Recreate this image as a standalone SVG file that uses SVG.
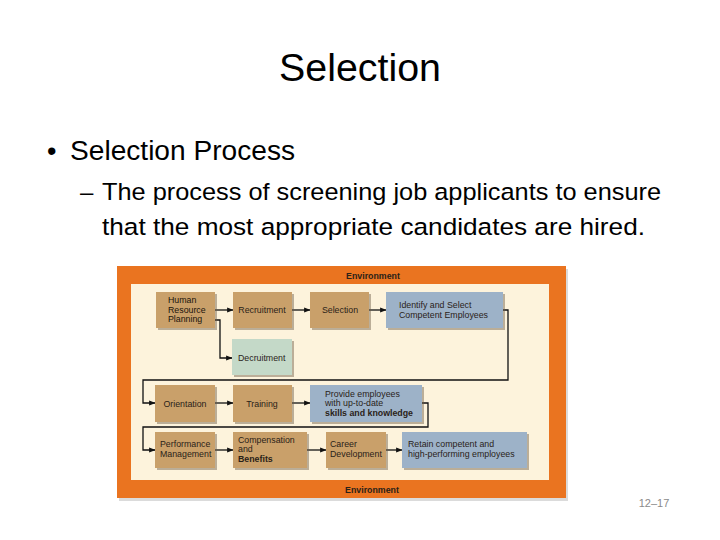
<svg xmlns="http://www.w3.org/2000/svg" width="720" height="540" viewBox="0 0 720 540">
<style>
.t{font-family:"Liberation Sans",Arial,sans-serif;fill:#000}
.bx{font-family:"Liberation Sans",Arial,sans-serif;font-size:8.8px;fill:#2a2218}
.b{font-weight:bold}
.tan{fill:#C9A06A}
.blue{fill:#9DB2C8}
.green{fill:#C4D9C8}
.sh{fill:#6b5a45;opacity:0.45}
.ln{fill:none;stroke:#111;stroke-width:1.3}
</style>
<defs>
<marker id="ar" viewBox="0 0 10 10" refX="9" refY="5" markerWidth="5" markerHeight="5" orient="auto">
<path d="M0,1 L10,5 L0,9 z" fill="#111"/>
</marker>
</defs>
<rect width="720" height="540" fill="#fff"/>
<text class="t" x="279" y="81" font-size="39" textLength="162" lengthAdjust="spacingAndGlyphs">Selection</text>
<text class="t" x="47" y="160" font-size="27">•</text>
<text class="t" x="70" y="160" font-size="27" textLength="225" lengthAdjust="spacingAndGlyphs">Selection Process</text>
<text class="t" x="80" y="200" font-size="24">–</text>
<text class="t" x="102" y="200" font-size="24.5" textLength="559" lengthAdjust="spacingAndGlyphs">The process of screening job applicants to ensure</text>
<text class="t" x="102" y="235" font-size="24.5" textLength="543" lengthAdjust="spacingAndGlyphs">that the most appropriate candidates are hired.</text>
<text x="654" y="507" font-size="11" text-anchor="middle" style="font-family:'Liberation Sans',Arial,sans-serif;fill:#8a8a8a">12–17</text>

<g id="frame">
<rect x="119" y="269" width="449" height="232" fill="#999" opacity="0.35"/>
<rect x="117" y="266" width="449" height="232" fill="#EA7420"/>
<rect x="131" y="284" width="418" height="196" fill="#FDF3DC"/>
<text class="bx b" x="373" y="279" text-anchor="middle" font-size="8.6">Environment</text>
<text class="bx b" x="372" y="493" text-anchor="middle" font-size="8.6">Environment</text>
</g>

<g id="connectors">
<path class="ln" d="M215,310 H233" marker-end="url(#ar)"/>
<path class="ln" d="M292,310 H310" marker-end="url(#ar)"/>
<path class="ln" d="M369,310 H386" marker-end="url(#ar)"/>
<path class="ln" d="M215,320 H220 V358 H232" marker-end="url(#ar)"/>
<path class="ln" d="M503,310 H508 V380 H143 V403 H155" marker-end="url(#ar)"/>
<path class="ln" d="M215,403 H233" marker-end="url(#ar)"/>
<path class="ln" d="M292,403 H310" marker-end="url(#ar)"/>
<path class="ln" d="M422,403 H428 V427 H143 V450 H155" marker-end="url(#ar)"/>
<path class="ln" d="M215,450 H233" marker-end="url(#ar)"/>
<path class="ln" d="M307,450 H326" marker-end="url(#ar)"/>
<path class="ln" d="M386,450 H402" marker-end="url(#ar)"/>
</g>

<g id="hrp">
<rect class="sh" x="158" y="294" width="59" height="36"/>
<rect class="tan" x="156" y="292" width="59" height="36"/>
<text class="bx" x="168" y="303" style="fill:#1a140c">Human</text>
<text class="bx" x="168" y="312.5" style="fill:#1a140c">Resource</text>
<text class="bx" x="168" y="322" style="fill:#1a140c">Planning</text>
</g>
<g id="recruitment">
<rect class="sh" x="235" y="294" width="59" height="36"/>
<rect class="tan" x="233" y="292" width="59" height="36"/>
<text class="bx" x="262" y="313" text-anchor="middle">Recruitment</text>
</g>
<g id="selection">
<rect class="sh" x="312" y="294" width="59" height="36"/>
<rect class="tan" x="310" y="292" width="59" height="36"/>
<text class="bx" x="340" y="313" text-anchor="middle">Selection</text>
</g>
<g id="identify">
<rect class="sh" x="388" y="294" width="117" height="36"/>
<rect class="blue" x="386" y="292" width="117" height="36"/>
<text class="bx" x="399" y="308">Identify and Select</text>
<text class="bx" x="399" y="317.5">Competent Employees</text>
</g>
<g id="decruitment">
<rect class="sh" x="234" y="341" width="60" height="36"/>
<rect class="green" x="232" y="339" width="60" height="36"/>
<text class="bx" x="238" y="360.5">Decruitment</text>
</g>
<g id="orientation">
<rect class="sh" x="157" y="387" width="60" height="37"/>
<rect class="tan" x="155" y="385" width="60" height="37"/>
<text class="bx" x="185" y="406.5" text-anchor="middle">Orientation</text>
</g>
<g id="training">
<rect class="sh" x="235" y="387" width="59" height="37"/>
<rect class="tan" x="233" y="385" width="59" height="37"/>
<text class="bx" x="262" y="406.5" text-anchor="middle">Training</text>
</g>
<g id="provide">
<rect class="sh" x="312" y="387" width="112" height="37"/>
<rect class="blue" x="310" y="385" width="112" height="37"/>
<text class="bx" x="325" y="397">Provide employees</text>
<text class="bx" x="325" y="406">with up-to-date</text>
<text class="bx b" x="325" y="415.5">skills and knowledge</text>
</g>
<g id="performance">
<rect class="sh" x="157" y="434" width="60" height="36"/>
<rect class="tan" x="155" y="432" width="60" height="36"/>
<text class="bx" x="160" y="447">Performance</text>
<text class="bx" x="160" y="457">Management</text>
</g>
<g id="compensation">
<rect class="sh" x="235" y="434" width="74" height="36"/>
<rect class="tan" x="233" y="432" width="74" height="36"/>
<text class="bx" x="238" y="443">Compensation</text>
<text class="bx" x="238" y="452">and</text>
<text class="bx b" x="238" y="461.5">Benefits</text>
</g>
<g id="career">
<rect class="sh" x="328" y="434" width="60" height="36"/>
<rect class="tan" x="326" y="432" width="60" height="36"/>
<text class="bx" x="330" y="447">Career</text>
<text class="bx" x="330" y="457">Development</text>
</g>
<g id="retain">
<rect class="sh" x="404" y="434" width="125" height="36"/>
<rect class="blue" x="402" y="432" width="125" height="36"/>
<text class="bx" x="408" y="447">Retain competent and</text>
<text class="bx" x="408" y="457">high-performing employees</text>
</g>
</svg>
